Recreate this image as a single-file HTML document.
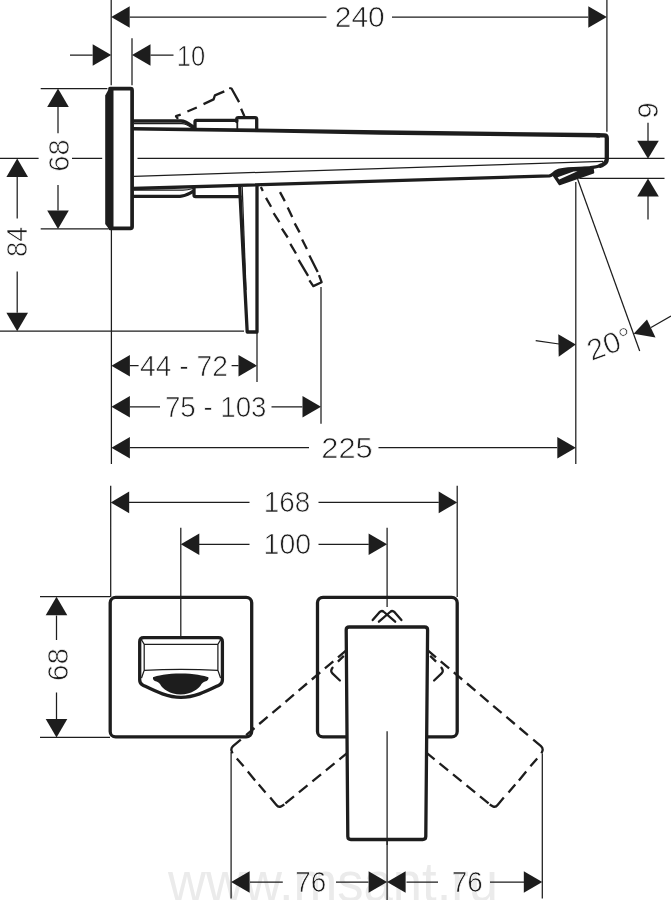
<!DOCTYPE html>
<html><head><meta charset="utf-8"><title>Drawing</title>
<style>
html,body{margin:0;padding:0;background:#fff;}
svg{display:block;filter:grayscale(1);}
text{font-family:"Liberation Sans",sans-serif;fill:#1d1d1b;}
.t{stroke:#1d1d1b;stroke-width:1.25;fill:none;}
.k{stroke:#1d1d1b;stroke-width:3.3;fill:none;stroke-linejoin:round;stroke-linecap:round;}
.d{stroke:#1d1d1b;stroke-width:2.3;fill:none;stroke-dasharray:11 5.5;stroke-linecap:butt;stroke-linejoin:round;}
.d2{stroke:#1d1d1b;stroke-width:2.3;fill:none;stroke-linejoin:round;stroke-linecap:butt;}
.d3{stroke:#1d1d1b;stroke-width:2.3;fill:none;stroke-linejoin:round;stroke-linecap:round;}
.a{fill:#1d1d1b;stroke:none;}
.n{font-size:29.3px;text-anchor:middle;stroke:#fff;stroke-width:0.7px;}
</style></head>
<body>
<svg width="671" height="900" viewBox="0 0 671 900">
<rect width="671" height="900" fill="#fff"/>
<!-- watermark -->
<text x="168" y="900.5" style="font-size:55px;fill:#ebebeb;" textLength="330" lengthAdjust="spacingAndGlyphs">www.msant.ru</text>

<!-- ===== SIDE VIEW : thin lines ===== -->
<g class="t">
<path d="M111.2 0V85.3M132 38.3V85.3M606.9 0V131.7"/>
<path d="M129.7 17H326.4M392 17H588.3"/>
<path d="M70 55H92.7M150.5 55H173.5"/>
<path d="M40.7 88.6H107.4M40.7 228.9H108"/>
<path d="M58 107V133.3M58 185V210.4"/>
<path d="M0 158.4H38.6M72 158.4H102.2M137.5 158.4H664.5"/>
<path d="M17.2 176.8V218.5M17.2 271.5V312.8"/>
<path d="M0 331.2H244"/>
<path d="M111.4 228.7V464M257 332V382M321 287V423.8M575.8 182V464"/>
<path d="M129.7 365.7H138.6M231.6 365.7H238.5"/>
<path d="M129.7 406.8H160M271.5 406.8H302.5"/>
<path d="M129.7 447.7H309M378.5 447.7H557.3"/>
<path d="M579.4 178.4H664.5"/>
<path d="M648 122.8V141M648 196V219.5"/>
<path d="M577.6 179L639.7 351"/>
<path d="M535.7 340.6L559 344M651 327.5L671 316"/>
<!-- spout inner thin lines -->
<path d="M134 176.4L603 161.3"/>
<path d="M134 123.6H182C187 123.9 190 126.6 193 128.6"/>
<path d="M134 190.2H183C188 190 191 189 195 188"/>
<path d="M242.2 187L246 290"/>
</g>

<!-- arrows side view -->
<g class="a">
<path d="M111.2 17l18.5-10.8v21.6z"/><path d="M606.8 17l-18.5-10.8v21.6z"/>
<path d="M111.2 55l-18.5-10.8v21.6z"/><path d="M132 55l18.5-10.8v21.6z"/>
<path d="M58 88.6l-10.8 18.5h21.6z"/><path d="M58 228.9l-10.8-18.5h21.6z"/>
<path d="M17.2 158.4l-10.8 18.5h21.6z"/><path d="M17.2 331.2l-10.8-18.5h21.6z"/>
<path d="M111.4 365.7l18.5-10.8v21.6z"/><path d="M257 365.7l-18.5-10.8v21.6z"/>
<path d="M111.4 406.8l18.5-10.8v21.6z"/><path d="M321 406.8l-18.5-10.8v21.6z"/>
<path d="M111.4 447.7l18.5-10.8v21.6z"/><path d="M575.8 447.7l-18.5-10.8v21.6z"/>
<path d="M648 158.8l-10.8-18h21.6z"/><path d="M648 178.4l-10.8 18h21.6z"/>
<path d="M575.8 344.6L558.3 334.3L558.7 356.8z"/>
<path d="M633.6 333.8L647 319.5L655.5 337.5z"/>
</g>

<!-- side view text -->
<text class="n" x="359.8" y="27.2" textLength="50" lengthAdjust="spacingAndGlyphs">240</text>
<text class="n" x="191" y="65.5" textLength="28.5" lengthAdjust="spacingAndGlyphs">10</text>
<text class="n" transform="translate(68.9 155.5) rotate(-90)" textLength="32.5" lengthAdjust="spacingAndGlyphs">68</text>
<text class="n" transform="translate(27.4 241.8) rotate(-90)" textLength="30.5" lengthAdjust="spacingAndGlyphs">84</text>
<text class="n" transform="translate(658 110.4) rotate(-90)">9</text>
<text class="n" x="184" y="376.1" textLength="88" lengthAdjust="spacingAndGlyphs">44 - 72</text>
<text class="n" x="215.7" y="417" textLength="101.5" lengthAdjust="spacingAndGlyphs">75 - 103</text>
<text class="n" x="347" y="458.2" textLength="51.5" lengthAdjust="spacingAndGlyphs">225</text>
<text class="n" transform="translate(613 353.2) rotate(-20)" textLength="46" lengthAdjust="spacingAndGlyphs">20°</text>

<!-- ===== SIDE VIEW : thick lines ===== -->
<!-- wall plate -->
<path class="a" d="M109.7 87.2H113.5V230H109.7L105.2 224V95.6z"/>
<path class="k" style="stroke-width:3.7" d="M110 88.7H130.5Q132.1 88.7 132.1 90.2V226.8Q132.1 228.3 130.5 228.3H110"/>
<g class="k">
<!-- neck top -->
<path d="M133 121H181C187 121.3 190 125 194.5 127.6"/>
<path d="M133 196.3H180C186 196.1 189 193.6 193 191.6"/>
<!-- spout outline -->
<path d="M601 165.5C597 166.8 592 167.5 590 167.8L568 169C562 169.5 559 170.2 556.8 171.2C553.5 173 552 175.5 549.5 175.9L133 188.5"/>
<path style="stroke-width:4.3" d="M597 135.25L604.3 135.35Q606.8 135.4 606.8 137.9V159.3Q606.7 163 602.5 164.9L600.4 165.7"/>
<path style="stroke:none;fill:#1d1d1b" d="M133 127L600 133.1V137.45L380 134.7L270 132.4L133 130.5Z"/>
<!-- handle base top -->
<path d="M195 128.5V121.7Q195 120.3 196.4 120.3H236.7"/>
<path d="M236.7 121.5V119.3Q236.7 117.6 238.4 117.6H255Q256.7 117.6 256.7 119.3V129.5"/><path d="M237.3 121V129" style="stroke-width:1.8"/>
<!-- handle base bottom + lever -->
<path d="M194 187V195Q194 196.6 195.6 196.6H240"/>
<path d="M239.7 187L240.2 198L247.2 332H257V186"/>
</g>
<!-- aerator -->
<path d="M553.5 175.5C555 173 557 171.3 559 170.6L568 168.8L592.6 167.2L593.4 172.6L559.6 184.4Z" fill="#1d1d1b" stroke="#1d1d1b" stroke-width="1.8" stroke-linejoin="round"/>
<path d="M557.6 177.2L573.5 171.6L577.5 171.2L559.2 179.4Z" fill="#fff"/>
<!-- dashed handles side view -->
<g class="d2">
<path d="M178 118.9L176 116.2L180.7 114.6M187.4 111.5L196.8 107.5M203.5 104.1L213.6 99.4L214.9 95.4L224.3 91.4M229.2 88L231.5 88.5L239.1 102.1M241.1 108.8L244.4 116.2"/>
<path d="M260.9 187L262.8 190.9M266 197.9L271.1 206.8M273.6 213.2L279.4 222.2M281.9 228.6L287.7 237.5M290.3 243.9L296 253.5M298.6 259.9L308.1 275.8M309.4 280.3L313.3 286.1L321.6 282.2L319 275.2"/>
<path d="M280 192.1L284.8 201.1M287.7 207.5L292.2 217.1M294.7 223.4L299.6 232.4M302.1 239.4L306.9 249M309.4 255.4L317.7 272"/>
</g>

<!-- ===== FRONT VIEW : thin lines ===== -->
<g class="t">
<path d="M110.7 485.7V597M457.2 485.7V597M180.8 527.7V637M387.1 527.7V607M387.1 731.3V900"/>
<path d="M129 502.4H249.5M318.5 502.4H438.8"/>
<path d="M199 544.3H249.5M318.5 544.3H368.8"/>
<path d="M40 596.7H110M40 737.4H110"/>
<path d="M56.5 615.5V640M56.5 692.5V719"/>
<path d="M231.1 752V898.5M542.3 753.5V898.5"/>
<path d="M250 882H282.8M336 882H368.5M406.5 882H438M490 882H524"/>
<!-- spout front inner -->
<path d="M141.5 639.8L144.2 644.4H217.9L220.6 639.8M144.2 644.4V669.7M217.9 644.4V669.7M141.5 678L144.2 670.4Q181 668.2 217.9 670.4L220.6 678"/>
</g>
<g class="a">
<path d="M110.7 502.4l18.5-10.8v21.6z"/><path d="M457.2 502.4l-18.5-10.8v21.6z"/>
<path d="M180.8 544.3l18.5-10.8v21.6z"/><path d="M387.1 544.3l-18.5-10.8v21.6z"/>
<path d="M56.5 596.7l-10.8 18.5h21.6z"/><path d="M56.5 737.4l-10.8-18.5h21.6z"/>
<path d="M231.1 882l18.5-10.8v21.6z"/><path d="M387.1 882l-18.5-10.8v21.6z"/>
<path d="M387.1 882l18.5-10.8v21.6z"/><path d="M542.3 882l-18.5-10.8v21.6z"/>
</g>
<text class="n" x="286.9" y="512.4" textLength="46.5" lengthAdjust="spacingAndGlyphs">168</text>
<text class="n" x="287.3" y="554.3" textLength="47.5" lengthAdjust="spacingAndGlyphs">100</text>
<text class="n" transform="translate(67.8 664.5) rotate(-90)" textLength="33" lengthAdjust="spacingAndGlyphs">68</text>
<text class="n" x="310.8" y="892.2" textLength="31" lengthAdjust="spacingAndGlyphs">76</text>
<text class="n" x="467.3" y="892.2" textLength="31" lengthAdjust="spacingAndGlyphs">76</text>

<!-- ===== FRONT VIEW : thick ===== -->
<g class="k">
<rect x="110.2" y="597.3" width="141.5" height="139.6" rx="5.5"/>
<rect x="317.5" y="597.3" width="139.7" height="139.6" rx="5.5"/>
<path d="M143.7 637.7H218.4Q222.4 637.7 222.4 641.7V680Q222.4 683.6 219 685.2C207 691 195 697.3 181 697.3C167 697.3 155 691 143 685.2Q139.7 683.6 139.7 680V641.7Q139.7 637.7 143.7 637.7Z"/>
</g>
<path class="a" d="M153 677.2C156 675.6 168 673.4 180.7 673.4C193 673.4 205 675.6 208.4 677.2C209 679.5 207.5 681 205 681.4C203.5 681.8 202.5 682.6 201.5 684C199 689 191 694.4 180.7 694.4C170 694.4 162.5 689 160 684C159 682.6 158 681.8 156.5 681.4C154 681 152.4 679.5 153 677.2Z"/>
<!-- dashed rotated handles -->
<g class="d2">
<path d="M346.5 650.2L338.0 657.3M333.3 661.3L324.9 668.4M320.2 672.4L311.8 679.5M307.0 683.5L298.6 690.6M293.9 694.6L285.5 701.8M280.8 705.8L272.4 712.9M267.6 716.9L259.2 724.0M254.5 728.0L246.1 735.1M240.8 739.6L233.0 746.2Q231.0 748.0 231.4 750.4L232.5 753.3M236.8 758.5L243.6 766.3M247.8 771.5L255.1 780.4M258.7 784.6L265.5 792.4M270.2 797.6L276.4 805.0Q278.4 807.6 281.0 806.4L284.3 804.4M348.0 752.4L339.4 759.3M334.5 763.4L325.9 770.3M321.0 774.4L312.4 781.3M307.5 785.3L298.9 792.3M294.0 796.3L285.4 803.3M337.9 661.6L343.8 655.9"/>
<path d="M427.5 650.2L436.0 657.3M440.7 661.3L449.1 668.4M453.8 672.4L462.2 679.5M467.0 683.5L475.4 690.6M480.1 694.6L488.5 701.8M493.2 705.8L501.6 712.9M506.4 716.9L514.8 724.0M519.5 728.0L527.9 735.1M533.2 739.6L541 746.2Q543 748 542.6 750.4L541.5 753.3M537.2 758.5L530.4 766.3M526.2 771.5L518.9 780.4M515.3 784.6L508.5 792.4M503.8 797.6L497.6 805Q495.6 807.6 493 806.4L489.7 804.4M426.0 752.4L434.6 759.3M439.5 763.4L448.1 770.3M453.0 774.4L461.6 781.3M466.5 785.3L475.1 792.3M480.0 796.3L488.6 803.3M436.1 661.6L430.2 655.9"/>
</g>
<g class="d3">
<path d="M372.7 620.1L379.5 612.2Q381.8 610 384 612L395.2 621.7"/>
<path d="M401.4 620.1L394.6 612.2Q392.3 610 390.1 612L378.9 621.7"/>
<path d="M332.5 667.8Q330 671.2 332.4 673.4L339.9 680.5"/>
<path d="M441.5 667.8Q444 671.2 441.6 673.4L434.1 680.5"/>
</g>
<!-- handle front (white fill to hide dashed) -->
<path class="k" d="M349.2 627H424.6Q427.6 627 427.6 630L425.8 836.5Q425.7 839.5 422.7 839.5H350.9Q347.9 839.5 347.8 836.5L346.2 630Q346.2 627 349.2 627Z" style="fill:#fff"/>
<path class="t" d="M387.1 731.3V845"/>
</svg>
</body></html>
